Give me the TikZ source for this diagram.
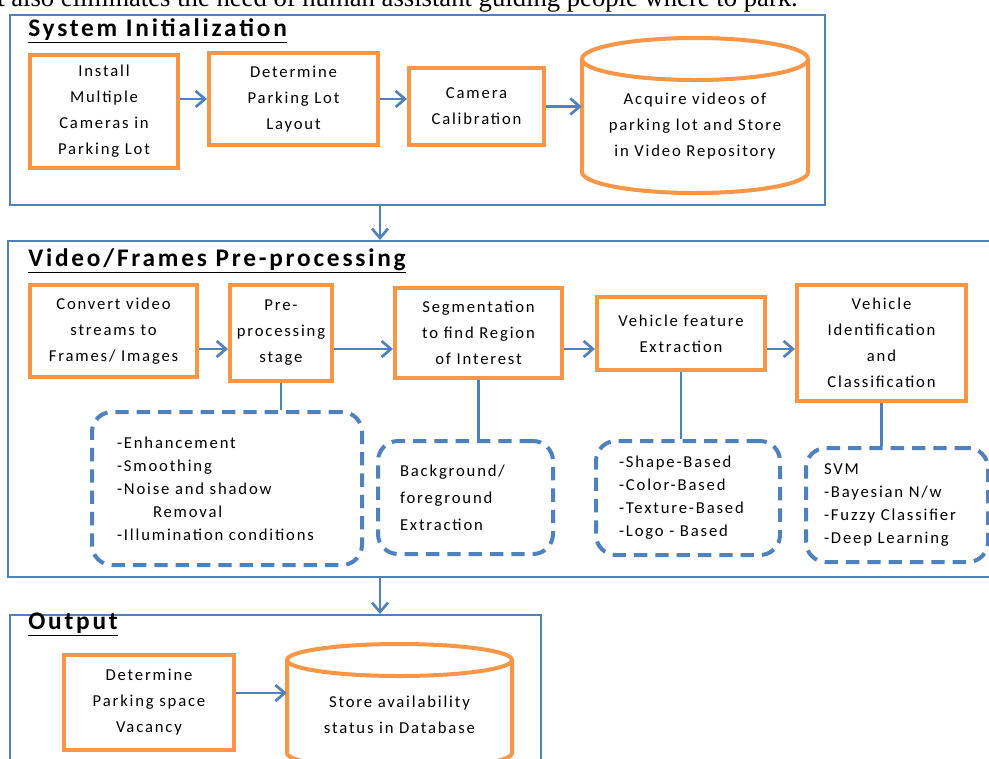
\documentclass[tikz,border=0pt]{standalone}
\usepackage{fontspec}
\setmainfont[LetterSpace=11]{Carlito}
\newfontfamily\leadfont{Liberation Serif}
\usetikzlibrary{arrows.meta}
\definecolor{boxorange}{HTML}{F79646}
\definecolor{lineblue}{HTML}{4F81BD}
\newcommand{\boxtext}{\fontsize{12.5}{19.5}\selectfont}
\newcommand{\notetext}{\fontsize{12.5}{17.25}\selectfont}
% cylinder outline: centre x, top ellipse y, side end y, x radius, y radius
\newcommand{\drum}[5]{%
  \draw[drumline] (#1,#2) ellipse [x radius=#4, y radius=#5];
  \draw[drumline] (#1-#4,#2) -- (#1-#4,#3)
    arc[start angle=180, end angle=0, x radius=#4, y radius=#5] -- (#1+#4,#2);}
\tikzset{
  sized/.style 2 args={minimum width=#1*0.75pt, minimum height=#2*0.75pt},
  sectionframe/.style={draw=lineblue, line width=1.5pt, inner sep=0pt},
  sectitle/.style={anchor=base west, inner sep=0pt, font=\fontsize{19}{23}\selectfont\bfseries},
  procbox/.style={draw=boxorange, line width=3pt, align=center, inner sep=0pt, font=\boxtext},
  drumtext/.style={align=center, inner sep=0pt, font=\boxtext},
  drumline/.style={draw=boxorange, line width=3pt},
  notebox/.style={draw=lineblue, line width=3pt, dash pattern=on 10pt off 6pt,
    rounded corners=15pt, align=left, inner ysep=0pt, font=\notetext},
  flow/.style={draw=lineblue, line width=2pt, -{Straight Barb[length=7pt,width=12pt]}},
  joinline/.style={draw=lineblue, line width=2pt}
}
\begin{document}
\begin{tikzpicture}[x=0.75pt, y=-0.75pt]
  \useasboundingbox (0,0) rectangle (989,758);
  \clip (0,0) rectangle (989,758);
  % sentence of the page, cut at the top
  \node[anchor=base west, inner sep=0pt, font=\leadfont\fontsize{20}{24}\selectfont] (lead) at (-3,6)
    {t also eliminates the need of human assistant guiding people where to park.};
  % section frames
  \node[sectionframe, sized={815}{190}] (sec1) at (417.5,110) {};
  \node[sectionframe, sized={987}{336}] (sec2) at (501.5,409) {};
  \node[sectionframe, sized={531}{185}] (sec3) at (275.5,707.5) {};
  \node[sectitle] (title1) at (28,36) {\underline{System Initialization}};
  \node[sectitle] (title2) at (28,266) {\underline{Video/Frames Pre-processing}};
  \node[sectitle] (title3) at (28,629) {\underline{Output}};
  % system initialization
  \node[procbox, sized={148}{113}] (a1) at (104,111.5) {Install\\Multiple\\Cameras in\\Parking Lot};
  \node[procbox, sized={169}{92}] (a2) at (293.5,99) {Determine\\Parking Lot\\Layout};
  \node[procbox, sized={135}{77}] (a3) at (476.5,106.5) {Camera\\Calibration};
  \node[drumtext, sized={226}{134}] (a4) at (695,126) {Acquire videos of\\parking lot and Store\\in Video Repository};
  \drum{695}{59}{172}{113}{21}
  \draw[flow] (a1.east |- a2) -- (a2.west);
  \draw[flow] (a2.east) -- (a2.east -| a3.west);
  \draw[flow] (a3.east) -- (a3.east -| a4.west);
  \draw[flow] (a2.east |- sec1.south) -- (a2.east |- sec2.north);
  % video/frames pre-processing
  \node[procbox, sized={167}{92}] (b1) at (113.5,331) {Convert video\\streams to\\Frames/ Images};
  \node[procbox, sized={102}{96}] (b2) at (281,333) {Pre-\\processing\\stage};
  \node[procbox, sized={167}{90}] (b3) at (478.5,333) {Segmentation\\to find Region\\of Interest};
  \node[procbox, sized={168}{73}] (b4) at (681,333.5) {Vehicle feature\\Extraction};
  \node[procbox, sized={169}{116}] (b5) at (881.5,343) {Vehicle\\Identification\\and\\Classification};
  \node[notebox, text width=165pt, inner xsep=18.75pt, minimum height=153*0.75pt] (d1) at (227,488.5)
    {-Enhancement\\-Smoothing\\-Noise and shadow\\\hspace*{27pt}Removal\\-Illumination conditions};
  \node[notebox, text width=98.25pt, inner xsep=16.5pt, minimum height=113*0.75pt,
    font=\fontsize{12.5}{20.25}\selectfont] (d2) at (465.5,497.5) {Background/\\foreground\\Extraction};
  \node[notebox, text width=103.5pt, inner xsep=17.25pt, minimum height=114*0.75pt] (d3) at (688,498)
    {-Shape-Based\\-Color-Based\\-Texture-Based\\-Logo - Based};
  \node[notebox, text width=109.5pt, inner xsep=13.5pt, minimum height=114*0.75pt] (d4) at (897,505)
    {SVM\\-Bayesian N/w\\-Fuzzy Classifier\\-Deep Learning};
  \coordinate (row) at (0,349);
  \foreach \s/\t in {b1/b2,b2/b3,b3/b4,b4/b5}
    \draw[flow] (\s.east |- row) -- (\t.west |- row);
  \foreach \s/\t in {b2/d1,b3/d2,b4/d3,b5/d4}
    \draw[joinline] (\s.south) -- (\s.south |- \t.north);
  \draw[flow] (a2.east |- sec2.south) -- (a2.east |- sec3.north);
  % output
  \node[procbox, sized={170}{95}] (c1) at (149,702.5) {Determine\\Parking space\\Vacancy};
  \node[drumtext, sized={225}{109}] (c2) at (399.5,714.5) {Store availability\\status in Database};
  \drum{399.5}{660}{753}{112.5}{16}
  \coordinate (outrow) at (0,693);
  \draw[flow] (c1.east |- outrow) -- (c2.west |- outrow);
\end{tikzpicture}
\end{document}
